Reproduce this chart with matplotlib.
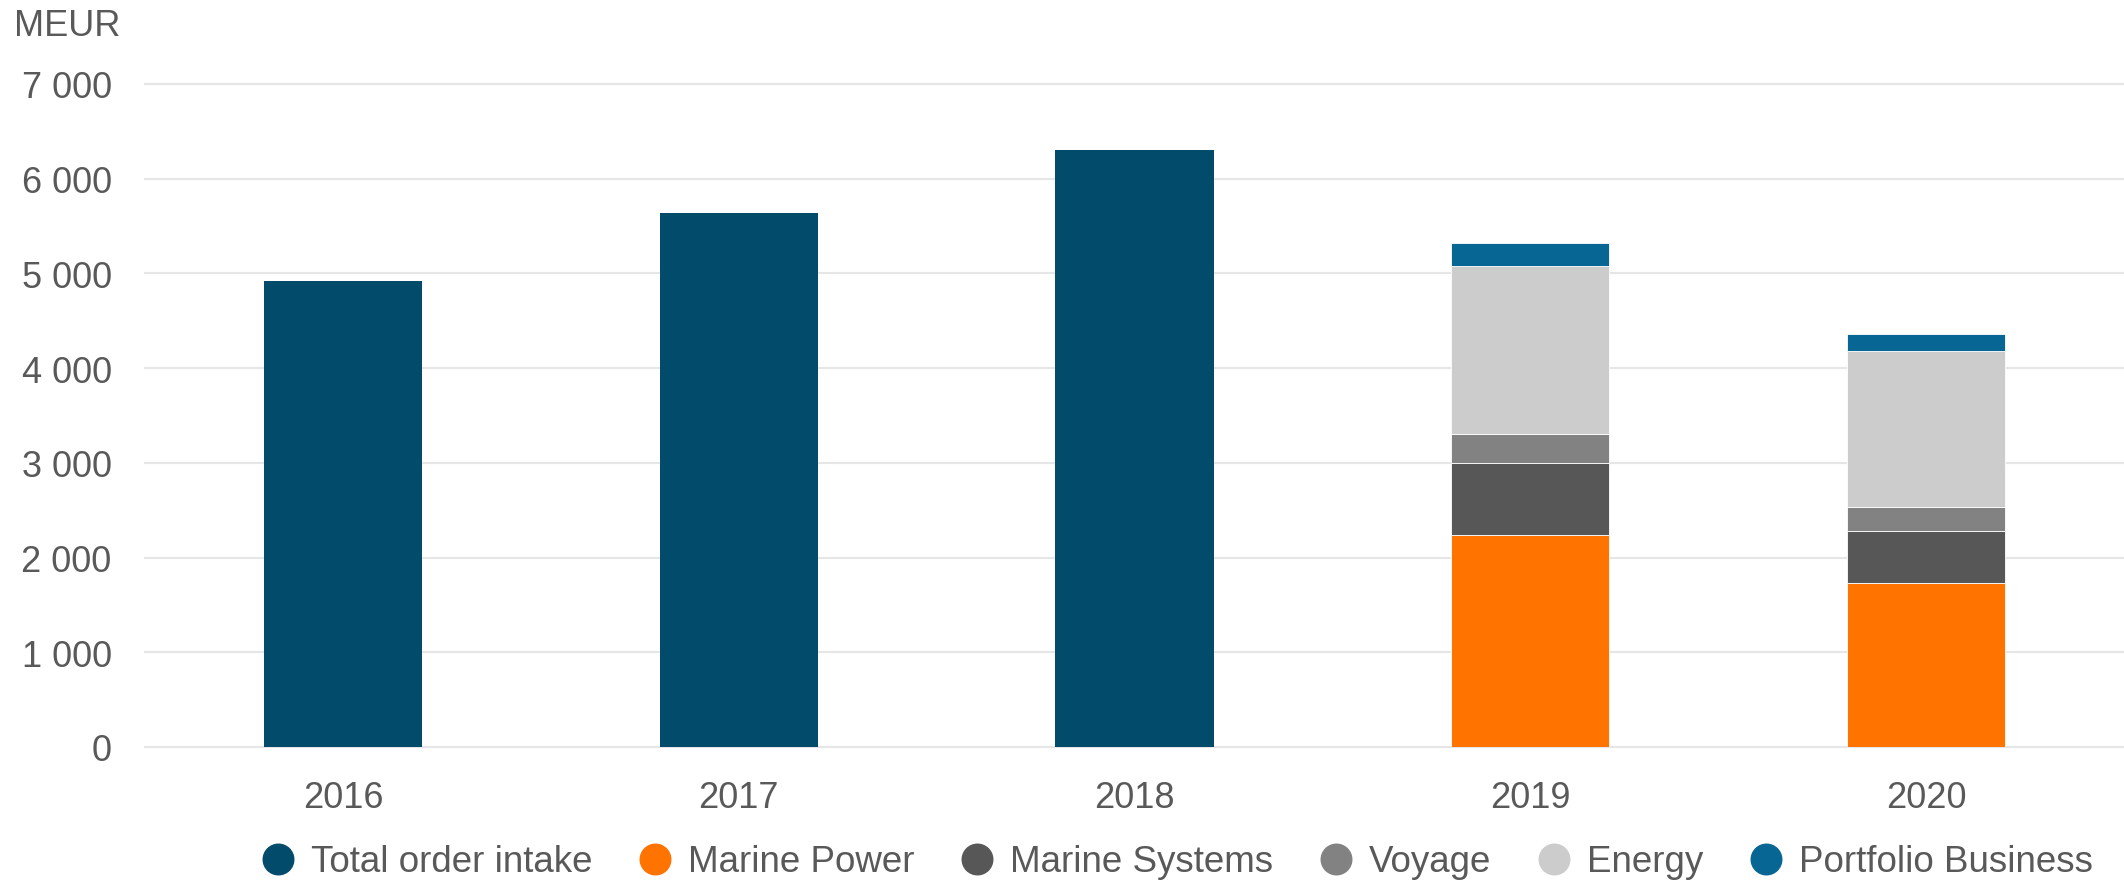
import matplotlib.pyplot as plt
from matplotlib.lines import Line2D

plt.rcParams['font.family'] = ['Liberation Sans', 'DejaVu Sans']

# data (MEUR)
years = ['2016', '2017', '2018', '2019', '2020']
total_order_intake = [4923, 5642, 6304]
segment_years = ['2019', '2020']
marine_power = [2240, 1733]
marine_systems = [754, 544]
voyage = [313, 252]
energy = [1772, 1657]
portfolio_business = [247, 173]

labels = ['Total order intake', 'Marine Power', 'Marine Systems', 'Voyage',
          'Energy', 'Portfolio Business']
colors = ['#034B6B', '#FF7300', '#575757', '#828282', '#CCCCCC', '#076694']
text_col = '#595959'

fig = plt.figure(figsize=(21.24, 8.87), dpi=100)
ax = fig.add_axes([145 / 2124, 139 / 887, 1 - 145 / 2124, (748 - 85) / 887])

x_all = list(range(len(years)))
w = 0.4
ax.bar(x_all[:len(total_order_intake)], total_order_intake, width=w,
       color=colors[0], zorder=3)

seg_x = [years.index(y) for y in segment_years]
bottom = [0] * len(segment_years)
for vals, col in zip([marine_power, marine_systems, voyage, energy, portfolio_business],
                     colors[1:]):
    ax.bar(seg_x, vals, width=w, bottom=bottom, color=col, zorder=3,
           edgecolor='white', linewidth=0.6)
    bottom = [b + v for b, v in zip(bottom, vals)]

ax.set_xlim(-0.5, 4.5)
ax.set_ylim(0, 7000)
yt = list(range(0, 7001, 1000))
ax.set_yticks(yt)
ax.set_yticklabels([f'{v:,}'.replace(',', ' ') for v in yt])
ax.set_xticks(x_all)
ax.set_xticklabels(years)
ax.tick_params(axis='y', length=0, pad=24, labelsize=26, labelcolor=text_col)
ax.tick_params(axis='x', length=0, pad=24, labelsize=26, labelcolor=text_col)
ax.grid(axis='y', color='#E6E6E6', linewidth=1.5, zorder=0)
ax.set_axisbelow(True)
for s in ax.spines.values():
    s.set_visible(False)
for gl in ax.get_ygridlines():
    gl.set_clip_on(False)

fig.text(14 / 2124, 1 - 36 / 887, 'MEUR', fontsize=26, color=text_col,
         va='baseline', ha='left')

handles = [Line2D([], [], marker='o', linestyle='', markersize=22,
                  markerfacecolor=c, markeredgecolor=c) for c in colors]
fig.legend(handles, labels, loc='center', bbox_to_anchor=(1176 / 2124, 1 - 863 / 887),
           ncol=6, frameon=False, fontsize=26.5, labelcolor=text_col,
           handletextpad=0.4, columnspacing=1.2, handlelength=1.0,
           borderaxespad=0, borderpad=0)

fig.savefig('out.png', dpi=100)
